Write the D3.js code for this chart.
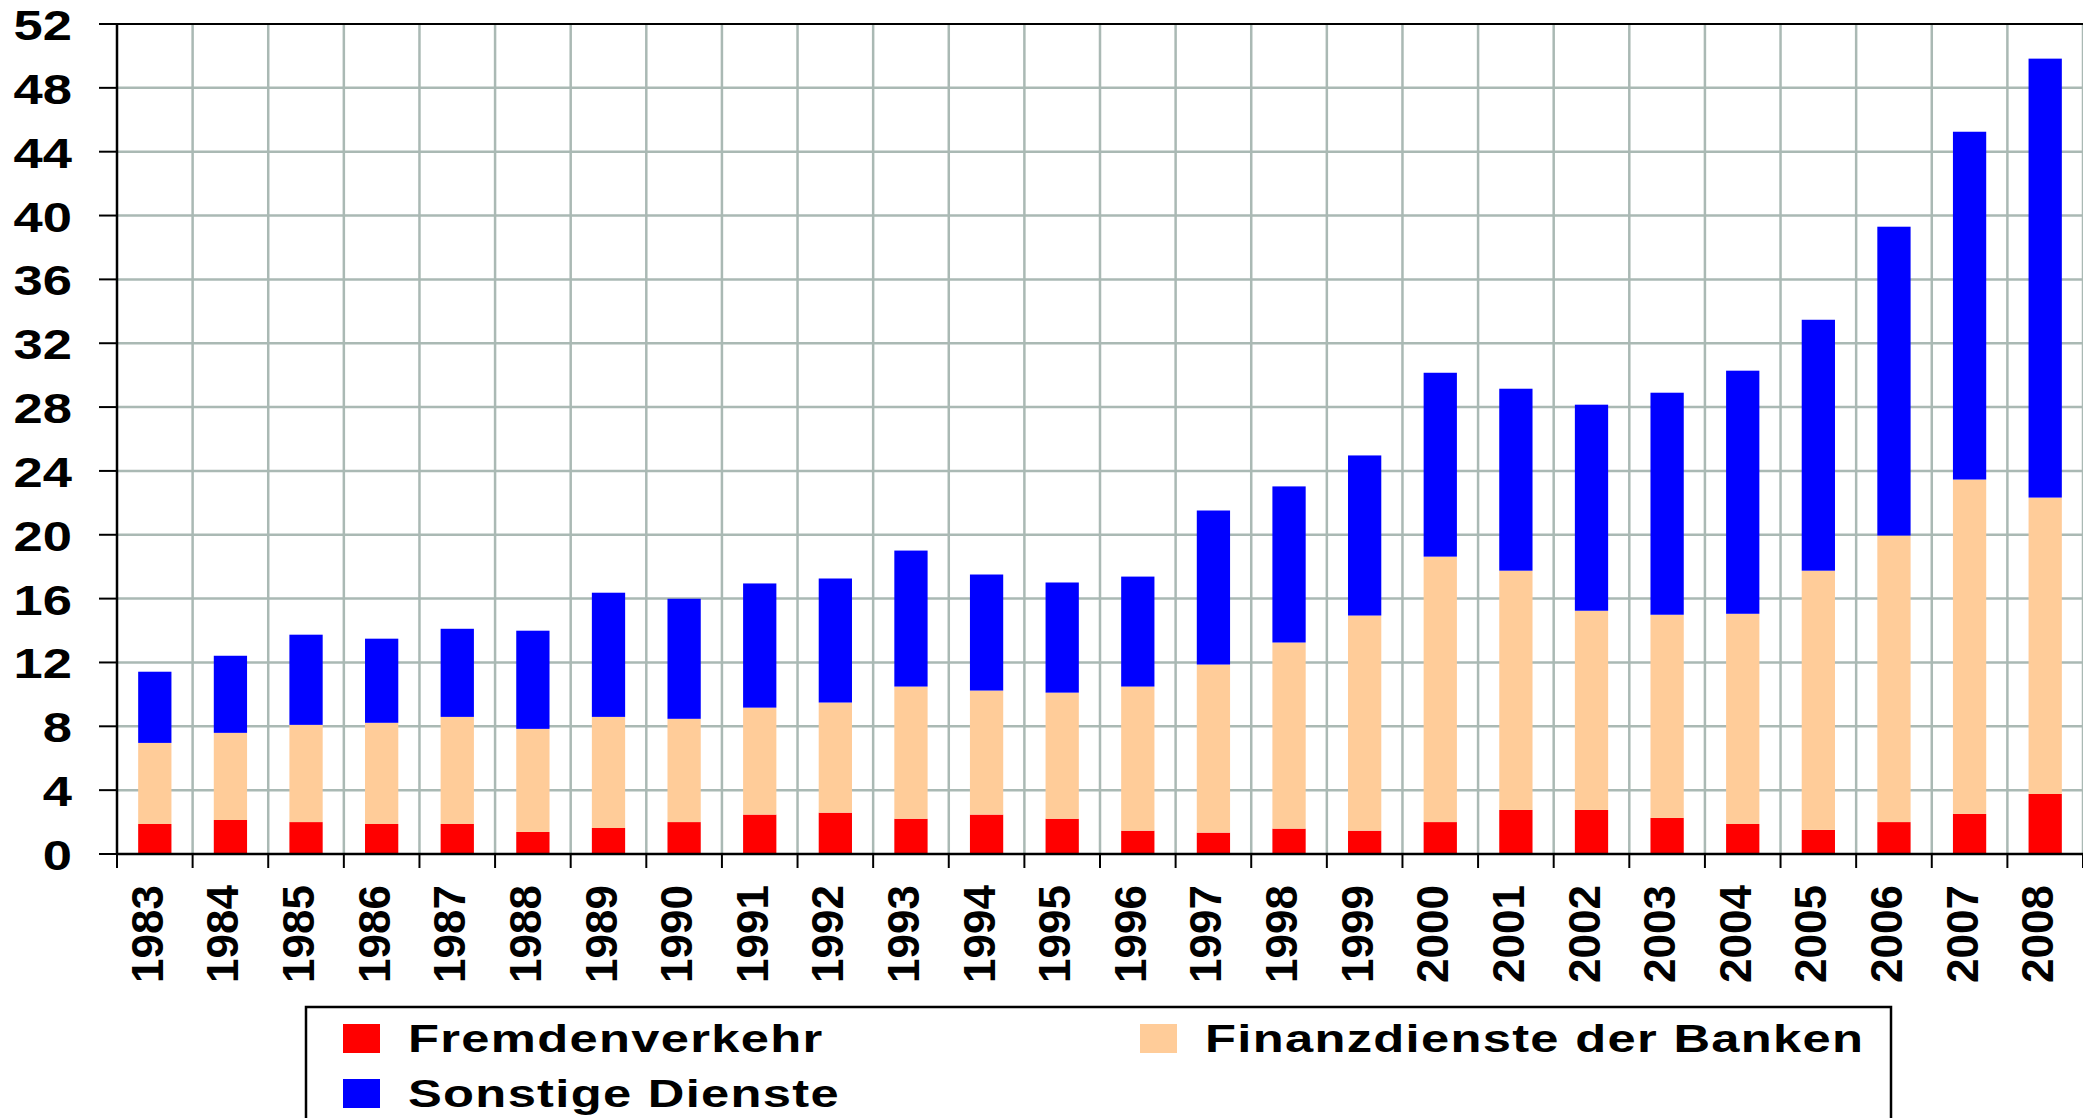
<!DOCTYPE html>
<html>
<head>
<meta charset="utf-8">
<script src="https://cdn.jsdelivr.net/npm/d3@7/dist/d3.min.js"></script>
<style>
  html, body { margin: 0; padding: 0; background: #fff; }
  svg { display: block; font-family: Arial, "Liberation Sans", sans-serif; font-weight: bold; }
</style>
</head>
<body>
<svg id="chart" width="2083" height="1118"></svg>
<script>
const years = ['1983','1984','1985','1986','1987','1988','1989','1990','1991','1992','1993','1994','1995',
               '1996','1997','1998','1999','2000','2001','2002','2003','2004','2005','2006','2007','2008'];

const fremdenverkehr = [1.88,2.13,2.00,1.88,1.88,1.38,1.63,2.00,2.47,2.59,2.21,2.47,2.21,
                        1.46,1.34,1.59,1.46,2.00,2.76,2.76,2.26,1.88,1.51,2.00,2.51,3.76];
const finanzdienste  = [5.08,5.46,6.09,6.34,6.71,6.46,6.96,6.47,6.70,6.90,8.28,7.77,7.90,
                        9.03,10.53,11.66,13.48,16.63,14.99,12.48,12.73,13.17,16.24,17.95,20.95,18.57];
const sonstige       = [4.46,4.83,5.65,5.27,5.52,6.15,7.78,7.52,7.78,7.77,8.52,7.27,6.90,
                        6.89,9.65,9.78,10.03,11.52,11.40,12.91,13.91,15.23,15.72,19.35,21.79,27.50];

const seriesNames = ['Fremdenverkehr', 'Finanzdienste der Banken', 'Sonstige Dienste'];
const seriesColors = ['#ff0000', '#ffcc99', '#0000ff'];
const yTicks = [0,4,8,12,16,20,24,28,32,36,40,44,48,52];

const margin = {top: 24, left: 117, right: 0, bottom: 264};
const width = 2083, height = 1118;
const gridColor = '#aab9b4';

const svg = d3.select('#chart');

const table = years.map((y, i) => ({
  year: y,
  [seriesNames[0]]: fremdenverkehr[i],
  [seriesNames[1]]: finanzdienste[i],
  [seriesNames[2]]: sonstige[i]
}));
const stacked = d3.stack().keys(seriesNames)(table);

const x = d3.scaleBand()
    .domain(years)
    .range([margin.left, width - margin.right])
    .paddingInner(0.56)
    .paddingOuter(0.28);

const y = d3.scaleLinear()
    .domain([0, 52])
    .range([height - margin.bottom, margin.top]);

const step = x.step();
const boundaries = d3.range(years.length + 1).map(i => margin.left + i * step);

// grid
svg.append('g')
    .selectAll('line')
    .data(yTicks.slice(1, -1))
    .enter()
    .append('line')
    .attr('x1', margin.left)
    .attr('x2', width)
    .attr('y1', d => y(d))
    .attr('y2', d => y(d))
    .attr('stroke', gridColor)
    .attr('stroke-width', 2.5);

svg.append('g')
    .selectAll('line')
    .data(boundaries.slice(1))
    .enter()
    .append('line')
    .attr('x1', d => d)
    .attr('x2', d => d)
    .attr('y1', y(52))
    .attr('y2', y(0))
    .attr('stroke', gridColor)
    .attr('stroke-width', 2.5);

// bars
svg.append('g')
    .selectAll('g')
    .data(stacked)
    .enter()
    .append('g')
    .attr('fill', (d, i) => seriesColors[i])
    .selectAll('rect')
    .data(d => d)
    .enter()
    .append('rect')
    .attr('x', d => x(d.data.year))
    .attr('width', x.bandwidth())
    .attr('y', d => y(d[1]))
    .attr('height', d => y(d[0]) - y(d[1]));

// y axis
const yAxis = svg.append('g');
yAxis.selectAll('line')
    .data(yTicks)
    .enter()
    .append('line')
    .attr('x1', margin.left - 18)
    .attr('x2', margin.left)
    .attr('y1', d => y(d))
    .attr('y2', d => y(d))
    .attr('stroke', '#000')
    .attr('stroke-width', 2);

yAxis.selectAll('text')
    .data(yTicks)
    .enter()
    .append('text')
    .attr('transform', d => `translate(72, ${y(d) + 16}) scale(1.25, 1)`)
    .attr('text-anchor', 'end')
    .style('font-size', '42px')
    .text(d => d);

// x axis ticks + labels
const xAxis = svg.append('g');
xAxis.selectAll('line')
    .data(boundaries)
    .enter()
    .append('line')
    .attr('x1', d => d)
    .attr('x2', d => d)
    .attr('y1', y(0))
    .attr('y2', y(0) + 14)
    .attr('stroke', '#000')
    .attr('stroke-width', 2);

xAxis.selectAll('text')
    .data(years)
    .enter()
    .append('text')
    .attr('transform', d => `translate(${x(d) + x.bandwidth() / 2 + 8}, ${y(0) + 31}) rotate(-90)`)
    .attr('text-anchor', 'end')
    .style('font-size', '44px')
    .text(d => d);

// axis lines and top border
svg.append('line')
    .attr('x1', margin.left).attr('x2', margin.left)
    .attr('y1', y(52)).attr('y2', y(0))
    .attr('stroke', '#000').attr('stroke-width', 2.5);
svg.append('line')
    .attr('x1', margin.left).attr('x2', width)
    .attr('y1', y(0)).attr('y2', y(0))
    .attr('stroke', '#000').attr('stroke-width', 2.5);
svg.append('line')
    .attr('x1', margin.left).attr('x2', width)
    .attr('y1', y(52)).attr('y2', y(52))
    .attr('stroke', '#000').attr('stroke-width', 2);

// legend
const legend = svg.append('g').attr('transform', 'translate(306, 1007)');
legend.append('rect')
    .attr('width', 1585)
    .attr('height', 140)
    .attr('fill', '#fff')
    .attr('stroke', '#000')
    .attr('stroke-width', 2.5);

const legendPos = [[37, 17], [834, 17], [37, 72]];
const items = legend.selectAll('g.item')
    .data(seriesNames)
    .enter()
    .append('g')
    .attr('class', 'item')
    .attr('transform', (d, i) => `translate(${legendPos[i][0]}, ${legendPos[i][1]})`);

items.append('rect')
    .attr('width', 37)
    .attr('height', 29)
    .attr('fill', (d, i) => seriesColors[i]);

items.append('text')
    .attr('transform', 'translate(65, 28) scale(1.3, 1)')
    .style('font-size', '39px')
    .style('letter-spacing', '1px')
    .text(d => d);
</script>
</body>
</html>
